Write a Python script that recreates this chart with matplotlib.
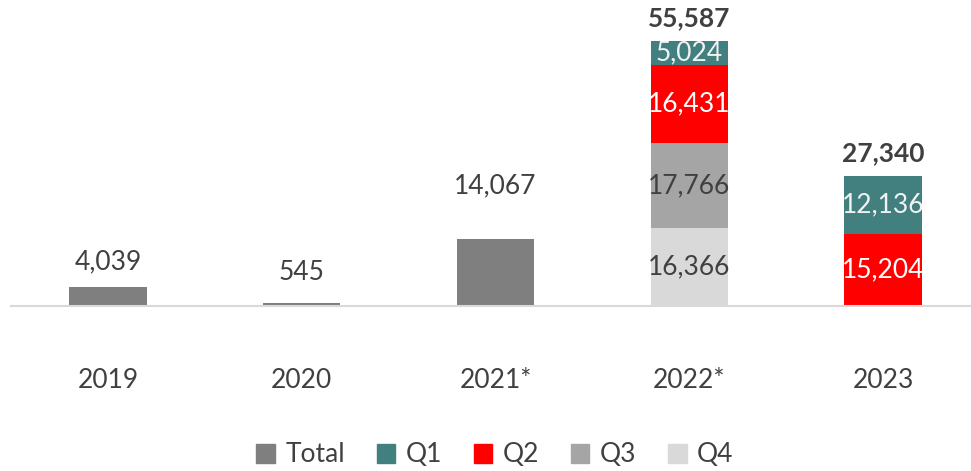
import matplotlib
matplotlib.use('Agg')

import numpy as np
import matplotlib.pyplot as plt
from matplotlib.patches import Patch


# DATA
YEARS  = ["2019", "2020", "2021*", "2022*", "2023"]
TOTAL  = [4039, 545, 14067, 0, 0]
Q1     = [0, 0, 0, 5024, 12136]
Q2     = [0, 0, 0, 16431, 15204]
Q3     = [0, 0, 0, 17766, 0]
Q4     = [0, 0, 0, 16366, 0]
SUMS   = [None, None, None, 55587, 27340]

# STYLE
TEXT_COL = "#404040"
COLOURS = {
    "Total": "#7F7F7F",
    "Q1":    "#41807F",
    "Q2":    "#FF0000",
    "Q3":    "#A5A5A5",
    "Q4":    "#D9D9D9",
}
SEG_TEXT = {"Q1": "#F2F2F2", "Q2": "#FFFFFF", "Q3": TEXT_COL, "Q4": TEXT_COL}
FONT = "Lato"
FS = 19
BAR_W = 0.4

plt.rcParams['font.family'] = [FONT, 'DejaVu Sans']

fig = plt.figure(figsize=(9.71, 4.71), dpi=100)
W, H = 971, 471
ax = fig.add_axes([11 / W, 165 / H, 969 / W, 286 / H])

x = np.arange(len(YEARS))

# Total bars (2019-2021)
ax.bar(x, TOTAL, width=BAR_W, color=COLOURS["Total"])

# stacked quarters: Q4 bottom, then Q3, Q2, Q1
bottom = np.zeros(len(YEARS))
for name, vals in [("Q4", Q4), ("Q3", Q3), ("Q2", Q2), ("Q1", Q1)]:
    vals = np.array(vals, dtype=float)
    ax.bar(x, vals, width=BAR_W, bottom=bottom, color=COLOURS[name])
    for xi, v, b in zip(x, vals, bottom):
        if v > 0:
            ax.text(xi, b + v / 2, f"{int(v):,}", ha="center", va="center",
                    fontsize=FS, color=SEG_TEXT[name])
    bottom += vals

# labels above total bars (px offsets)
total_offsets = [25, 31, 53]
for xi, v, off in zip(x, TOTAL, total_offsets + [0, 0]):
    if v > 0:
        ax.annotate(f"{v:,}", (xi, v), xytext=(0, off * 0.72),
                    textcoords="offset points", ha="center", va="center",
                    fontsize=FS, color=TEXT_COL)

# bold sums above stacked bars
for xi, s in zip(x, SUMS):
    if s:
        ax.annotate(f"{s:,}", (xi, s), xytext=(0, 23 * 0.72),
                    textcoords="offset points", ha="center", va="center",
                    fontsize=FS, fontweight="bold", color=TEXT_COL)

ax.set_xlim(-0.5, 4.5)
ax.set_ylim(0, 60000)
ax.set_yticks([])
ax.set_xticks(x)
ax.set_xticklabels(YEARS, fontsize=FS, color=TEXT_COL)
ax.tick_params(axis="x", length=0, pad=45)
for side in ["top", "right", "left"]:
    ax.spines[side].set_visible(False)
ax.spines["bottom"].set_color("#D9D9D9")
ax.spines["bottom"].set_linewidth(1.5)

handles = [Patch(color=COLOURS[k]) for k in ["Total", "Q1", "Q2", "Q3", "Q4"]]
fig.legend(handles, ["Total", "Q1", "Q2", "Q3", "Q4"], loc="center",
           bbox_to_anchor=(495 / W, 1 - 455 / H), ncol=5, frameon=False,
           fontsize=FS, labelcolor=TEXT_COL, handlelength=0.7,
           handleheight=0.7, handletextpad=0.4, columnspacing=1.2)

plt.savefig("out.png", dpi=100)
plt.close()
